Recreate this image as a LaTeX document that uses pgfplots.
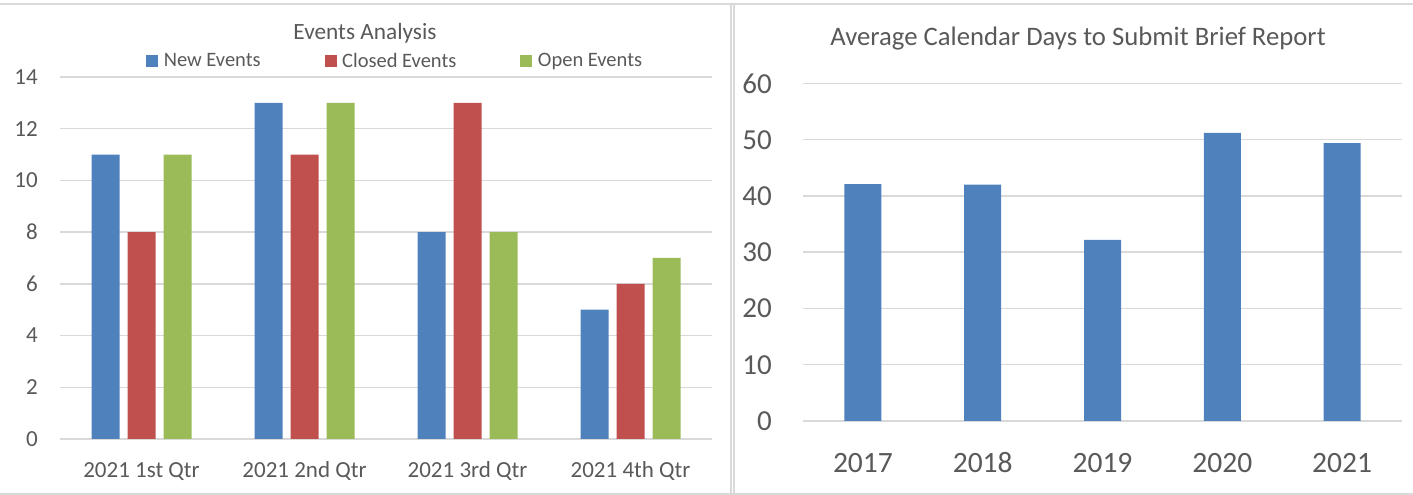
\documentclass[border=0pt]{standalone}
\usepackage{pgfplots}
\pgfplotsset{compat=1.18}
\usepackage{fontspec}
\setmainfont{Carlito}
\definecolor{cblue}{HTML}{4F81BD}
\definecolor{cred}{HTML}{C0504D}
\definecolor{cgreen}{HTML}{9BBB59}
\definecolor{tgray}{HTML}{595959}
\definecolor{ggray}{HTML}{D9D9D9}
\pgfplotsset{common/.style={scale only axis, axis line style={draw=none}, major tick length=0pt, tick style={draw=none},
  ymajorgrids, grid style={ggray, line width=1.5pt}, ybar, enlarge x limits=false,
  /pgf/number format/assume math mode=true, tick label style={text=tgray, inner sep=0pt}, clip=false}}
\begin{document}
\begin{tikzpicture}
\path[use as bounding box] (0pt,0pt) rectangle (1413pt,495pt);
\draw[ggray, line width=1.5pt] (0pt,491pt) -- (1413pt,491pt);
\draw[ggray, line width=1.5pt] (0pt,1pt) -- (1413pt,1pt);
\draw[ggray, line width=1.5pt] (731pt,0pt) -- (731pt,491pt);
\draw[ggray, line width=1.5pt] (734pt,0pt) -- (734pt,491pt);

\begin{axis}[common, at={(60pt,56pt)}, anchor=south west, width=652pt, height=362pt,
  xmin=-0.5, xmax=3.5, ymin=0, ymax=14, ytick={0,2,...,14}, xtick={0,1,2,3},
  xticklabels={2021 1st Qtr, 2021 2nd Qtr, 2021 3rd Qtr, 2021 4th Qtr},
  bar width=28pt, ybar=8pt,
  yticklabel style={anchor=east, xshift=-22pt, font=\fontsize{23}{27}\selectfont},
  xticklabel style={anchor=base, yshift=-39pt, font=\fontsize{23}{27}\selectfont},
  legend image code/.code={\fill[#1] (0pt,-6pt) rectangle (12pt,6pt);},
  legend columns=3,
  legend style={at={(0.132,1.044)}, anchor=west, draw=none, fill=none, inner sep=0pt,
    font=\fontsize{20.5}{24}\selectfont, text=tgray,
    /tikz/every odd column/.append style={column sep=3.5pt},
    /tikz/every even column/.append style={column sep=62pt}},
]
\addplot[fill=cblue, draw=none] coordinates {(0,11) (1,13) (2,8) (3,5)};
\addplot[fill=cred, draw=none] coordinates {(0,8) (1,11) (2,13) (3,6)};
\addplot[fill=cgreen, draw=none] coordinates {(0,11) (1,13) (2,8) (3,7)};
\legend{New Events, Closed Events, Open Events}
\end{axis}
\node[anchor=base, font=\fontsize{23.3}{27}\selectfont, text=tgray] at (365pt,455pt) {Events Analysis};

\begin{axis}[common, at={(803pt,74pt)}, anchor=south west, width=599pt, height=337.5pt,
  xmin=-0.5, xmax=4.5, ymin=0, ymax=60, ytick={0,10,...,60}, xtick={0,1,2,3,4},
  xticklabels={2017, 2018, 2019, 2020, 2021},
  bar width=37pt,
  yticklabel style={anchor=east, xshift=-31pt, font=\fontsize{29}{33}\selectfont},
  xticklabel style={anchor=base, yshift=-52pt, font=\fontsize{29.5}{33}\selectfont},
]
\addplot[fill=cblue, draw=none] coordinates {(0,42.1) (1,42.0) (2,32.2) (3,51.2) (4,49.4)};
\end{axis}
\node[anchor=base, font=\fontsize{26.7}{30}\selectfont, text=tgray] at (1078pt,449pt) {Average Calendar Days to Submit Brief Report};
\end{tikzpicture}
\end{document}
